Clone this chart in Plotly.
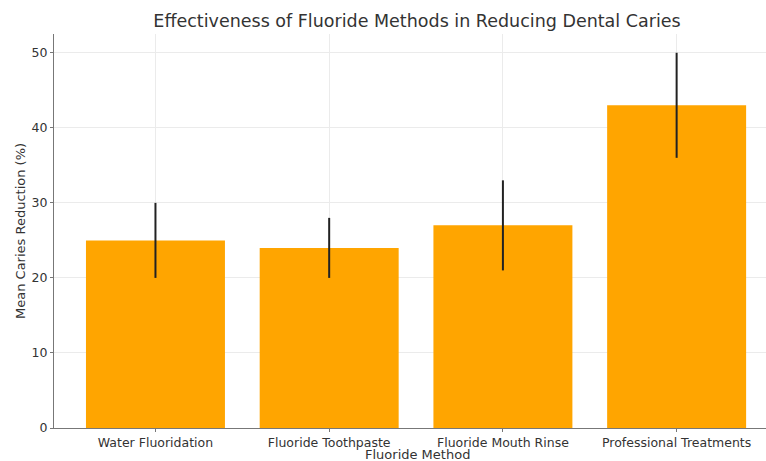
import plotly.graph_objects as go

methods = ["Water Fluoridation", "Fluoride Toothpaste", "Fluoride Mouth Rinse", "Professional Treatments"]
mean_reduction = [25, 24, 27, 43]
err_upper = [5, 4, 6, 7]
err_lower = [5, 4, 6, 7]

fig = go.Figure()
fig.add_trace(go.Bar(
    x=list(range(len(methods))),
    y=mean_reduction,
    width=0.8,
    marker=dict(color="#FFA500", line=dict(width=0)),
    error_y=dict(type="data", symmetric=False, array=err_upper, arrayminus=err_lower,
                 color="#222222", thickness=2, width=0),
))

font = "DejaVu Sans, sans-serif"
L, R, T, B = 54, 0, 34, 33
W, H = 780, 461
fig.update_layout(
    width=W, height=H,
    margin=dict(l=L, r=R, t=T, b=B, autoexpand=False),
    paper_bgcolor="white", plot_bgcolor="white",
    title=dict(text="Effectiveness of Fluoride Methods in Reducing Dental Caries",
               x=0.5, xref="paper", xanchor="center",
               y=1 - 21 / H, yref="container", yanchor="middle",
               font=dict(family=font, size=17.5, color="#333333")),
    font=dict(family=font, size=13, color="#444444"),
    showlegend=False,
    bargap=0.2,
)
fig.update_xaxes(
    range=[-0.584, 3.595], automargin=False,
    tickmode="array", tickvals=list(range(len(methods))), ticktext=methods,
    showgrid=True, gridcolor="#ebebeb", gridwidth=1,
    showline=True, linecolor="#777777", linewidth=1,
    ticks="outside", ticklen=3, tickcolor="#777777",
    tickfont=dict(size=12.5, color="#333333"),
    zeroline=False,
)
fig.update_yaxes(
    range=[0, 52.5], automargin=False,
    tickvals=[0, 10, 20, 30, 40, 50],
    showgrid=True, gridcolor="#ebebeb", gridwidth=1,
    showline=True, linecolor="#777777", linewidth=1,
    ticks="outside", ticklen=3, tickcolor="#777777",
    tickfont=dict(size=12.5, color="#333333"),
    zeroline=False,
)
fig.add_annotation(text="Fluoride Method", xref="paper", yref="paper",
                   x=0.5, y=-(454 - (H - B)) / (H - T - B),
                   xanchor="center", yanchor="middle", showarrow=False,
                   font=dict(family=font, size=13, color="#333333"))
fig.add_annotation(text="Mean Caries Reduction (%)", xref="paper", yref="paper",
                   x=-(L - 20) / (W - L - R), y=0.5, textangle=-90,
                   xanchor="center", yanchor="middle", showarrow=False,
                   font=dict(family=font, size=13, color="#333333"))

fig.write_html("out.html",
               config={"displayModeBar": False},
               post_script="document.body.style.margin='0';document.body.style.overflow='hidden';")
